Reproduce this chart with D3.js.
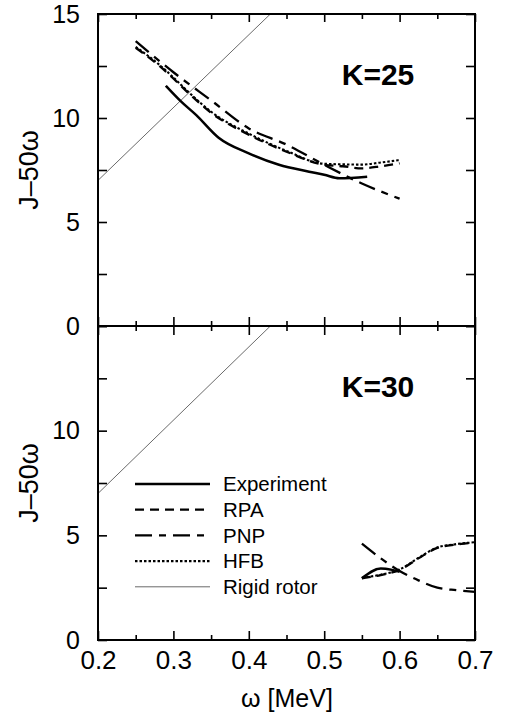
<!DOCTYPE html>
<html>
<head>
<meta charset="utf-8">
<script src="https://cdn.jsdelivr.net/npm/d3@7"></script>
<style>
  html, body { margin: 0; padding: 0; background: #fff; }
  svg { display: block; font-family: "Liberation Sans", Arial, Helvetica, sans-serif; }
</style>
</head>
<body>
<svg id="chart" width="505" height="715"></svg>
<script>
// ---- data: J - 50ω versus ω [MeV] ----
const series = ["Experiment", "RPA", "PNP", "HFB", "Rigid rotor"];

// K = 25 band
const k25Experiment = [[0.29, 11.55], [0.31, 10.8], [0.33, 10.15], [0.36, 9.05], [0.40, 8.3], [0.44, 7.75], [0.48, 7.42], [0.50, 7.27], [0.52, 7.1], [0.557, 7.18]];
const k25RPA = [[0.25, 13.38], [0.28, 12.55], [0.30, 11.9], [0.32, 11.2], [0.35, 10.25], [0.40, 9.2], [0.45, 8.38], [0.50, 7.75], [0.525, 7.68], [0.55, 7.58], [0.575, 7.68], [0.60, 7.82]];
const k25PNP = [[0.25, 13.7], [0.30, 12.2], [0.35, 10.85], [0.40, 9.5], [0.45, 8.72], [0.50, 7.75], [0.55, 6.85], [0.60, 6.12]];
const k25HFB = [[0.25, 13.42], [0.28, 12.6], [0.30, 11.95], [0.32, 11.25], [0.35, 10.3], [0.40, 9.25], [0.45, 8.42], [0.50, 7.8], [0.55, 7.76], [0.575, 7.86], [0.60, 7.98]];

// K = 30 band
const k30Experiment = [[0.55, 2.95], [0.575, 3.42], [0.59, 3.35], [0.60, 3.26]];
const k30RPA = [[0.55, 2.95], [0.575, 3.1], [0.60, 3.35], [0.625, 3.9], [0.65, 4.4], [0.675, 4.56], [0.70, 4.65]];
const k30PNP = [[0.55, 4.6], [0.575, 3.9], [0.60, 3.3], [0.625, 2.85], [0.65, 2.5], [0.675, 2.38], [0.70, 2.3]];
const k30HFB = [[0.55, 2.97], [0.575, 3.12], [0.60, 3.37], [0.625, 3.92], [0.65, 4.42], [0.675, 4.58], [0.70, 4.67]];

// rigid rotor: J - 50ω = 35ω
const rigidRotor = [[0.2, 7], [0.4286, 15]];

const xMajorTicks = [0.2, 0.3, 0.4, 0.5, 0.6, 0.7];
const xMinorTicks = [0.25, 0.35, 0.45, 0.55, 0.65];
const yTicks = [0, 2.5, 5, 7.5, 10, 12.5, 15];
const topYLabels = [0, 5, 10, 15];
const bottomYLabels = [0, 5, 10];

// ---- layout ----
const svg = d3.select("#chart");
const plotLeft = 98, plotRight = 475, plotTop = 14, plotMid = 326, plotBottom = 640;
const x = d3.scaleLinear().domain([0.2, 0.7]).range([plotLeft, plotRight]);
const yTop = d3.scaleLinear().domain([0, 15]).range([plotMid, plotTop]);
const yBot = d3.scaleLinear().domain([0, 15]).range([plotBottom, plotMid]);

const styles = {
  "Experiment": { w: 2.5, dash: null, color: "#000" },
  "RPA": { w: 2.3, dash: "9,6", color: "#000" },
  "PNP": { w: 2.3, dash: "17,7,7,7", color: "#000" },
  "HFB": { w: 2.1, dash: "2.5,2", color: "#000" },
  "Rigid rotor": { w: 0.8, dash: null, color: "#444" }
};

function drawPanel(y, data, label, yLabels, clipId, y0, y1) {
  svg.append("clipPath").attr("id", clipId)
    .append("rect").attr("x", plotLeft).attr("y", y0).attr("width", plotRight - plotLeft).attr("height", y1 - y0);

  const g = svg.append("g").attr("clip-path", `url(#${clipId})`);
  const line = d3.line().x(d => x(d[0])).y(d => y(d[1])).curve(d3.curveMonotoneX);
  data.forEach(([name, pts]) => {
    const s = styles[name];
    g.append("path").datum(pts).attr("d", line)
      .attr("fill", "none").attr("stroke", s.color).attr("stroke-width", s.w)
      .attr("stroke-dasharray", s.dash).attr("stroke-linejoin", "round");
  });

  // left axis with inward ticks
  const la = svg.append("g").attr("transform", `translate(${plotLeft},0)`)
    .call(d3.axisLeft(y).tickValues(yTicks).tickSize(-9).tickSizeOuter(0).tickPadding(18)
      .tickFormat(d => yLabels.includes(d) ? d3.format("d")(d) : ""));
  la.select(".domain").remove();
  la.selectAll("line").attr("stroke-width", 1.6);
  la.selectAll("text").attr("font-size", 25).attr("fill", "#000")
    .attr("font-family", "'Liberation Sans', Arial, sans-serif");

  // right axis
  const ra = svg.append("g").attr("transform", `translate(${plotRight},0)`)
    .call(d3.axisRight(y).tickValues(yTicks).tickSize(-9).tickSizeOuter(0).tickFormat(""));
  ra.select(".domain").remove();
  ra.selectAll("line").attr("stroke-width", 1.6);

  svg.append("text").attr("x", 378).attr("y", y(11.6))
    .attr("text-anchor", "middle").attr("font-size", 30).attr("font-weight", "bold")
    .text(label);

  svg.append("text")
    .attr("transform", `translate(38,${(y0 + y1) / 2}) rotate(-90)`)
    .attr("text-anchor", "middle").attr("font-size", 27)
    .text("J\u201350\u03c9");
}

drawPanel(yTop, [["Rigid rotor", rigidRotor], ["RPA", k25RPA], ["HFB", k25HFB], ["PNP", k25PNP], ["Experiment", k25Experiment]],
  "K=25", topYLabels, "clipTop", plotTop, plotMid);
drawPanel(yBot, [["Rigid rotor", rigidRotor], ["RPA", k30RPA], ["HFB", k30HFB], ["PNP", k30PNP], ["Experiment", k30Experiment]],
  "K=30", bottomYLabels, "clipBot", plotMid, plotBottom);

// horizontal axes: top edge, shared middle edge, bottom edge
function xTicks(yPos, axisFn, major, minor, labels) {
  const ga = svg.append("g").attr("transform", `translate(0,${yPos})`)
    .call(axisFn(x).tickValues(xMajorTicks).tickSize(major).tickSizeOuter(0).tickPadding(11)
      .tickFormat(labels ? d3.format(".1f") : ""));
  ga.select(".domain").remove();
  ga.selectAll("line").attr("stroke-width", 1.6);
  ga.selectAll("text").attr("font-size", 26).attr("fill", "#000")
    .attr("font-family", "'Liberation Sans', Arial, sans-serif");
  const gm = svg.append("g").attr("transform", `translate(0,${yPos})`)
    .call(axisFn(x).tickValues(xMinorTicks).tickSize(minor).tickSizeOuter(0).tickFormat(""));
  gm.select(".domain").remove();
  gm.selectAll("line").attr("stroke-width", 1.6);
}
xTicks(plotTop, d3.axisTop, -8, -5, false);
xTicks(plotMid, d3.axisTop, 9, 5, false);
xTicks(plotMid, d3.axisBottom, 9, 5, false);
xTicks(plotBottom, d3.axisBottom, -9, -5, true);

// frame
svg.append("rect").attr("x", plotLeft).attr("y", plotTop).attr("width", plotRight - plotLeft).attr("height", plotBottom - plotTop)
  .attr("fill", "none").attr("stroke", "#000").attr("stroke-width", 2);
svg.append("line").attr("x1", plotLeft).attr("x2", plotRight).attr("y1", plotMid).attr("y2", plotMid)
  .attr("stroke", "#000").attr("stroke-width", 2);

// x-axis title
svg.append("text").attr("x", 287).attr("y", 707).attr("text-anchor", "middle")
  .attr("font-size", 25).text("\u03c9 [MeV]");

// legend
const legend = svg.append("g");
series.forEach((name, i) => {
  const yy = 484 + i * 25.7;
  const s = styles[name];
  legend.append("line").attr("x1", 135).attr("x2", 210).attr("y1", yy).attr("y2", yy)
    .attr("stroke", s.color).attr("stroke-width", s.w).attr("stroke-dasharray", s.dash);
  legend.append("text").attr("x", 223).attr("y", yy).attr("dy", "0.36em")
    .attr("font-size", 20.5).text(name);
});
</script>
</body>
</html>
